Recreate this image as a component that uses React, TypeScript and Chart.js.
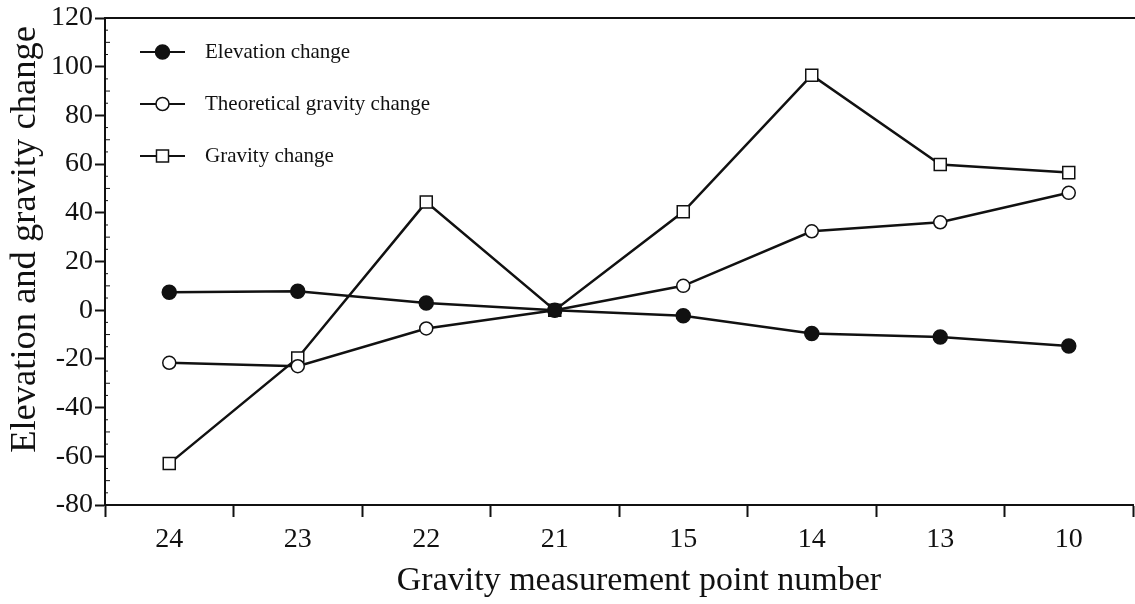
import React, { useEffect, useRef } from "react";
import { Chart, registerables } from "chart.js";

Chart.register(...registerables);

const categories = ["24", "23", "22", "21", "15", "14", "13", "10"];
const elevationChange = [7.4, 7.8, 3.0, 0, -2.3, -9.6, -11.0, -14.7];
const theoreticalGravityChange = [-21.6, -23.0, -7.5, 0, 10.0, 32.4, 36.1, 48.2];
const gravityChange = [-63.0, -19.6, 44.4, 0, 40.4, 96.5, 59.8, 56.5];
const seriesNames = ["Elevation change", "Theoretical gravity change", "Gravity change"];
const yTitle = "Elevation and gravity change";
const xTitle = "Gravity measurement point number";

const FONT = "'Liberation Serif', 'Times New Roman', serif";
const INK = "#111";

const decorPlugin = {
  id: "decor",
  afterDraw(chart: any) {
    const ctx = chart.ctx;
    const { chartArea } = chart;
    const yS = chart.scales.y;
    ctx.save();
    // top frame line
    ctx.strokeStyle = INK;
    ctx.lineWidth = 2;
    ctx.beginPath();
    ctx.moveTo(chartArea.left, chartArea.top);
    ctx.lineTo(chart.width, chartArea.top);
    ctx.stroke();
    // minor inward ticks on the y axis
    ctx.lineWidth = 1;
    for (let v = -75; v <= 120; v += 5) {
      if (v % 20 === 0) continue;
      const py = yS.getPixelForValue(v);
      const len = v % 10 === 0 ? 5 : 3;
      ctx.beginPath();
      ctx.moveTo(chartArea.left, py);
      ctx.lineTo(chartArea.left + len, py);
      ctx.stroke();
    }
    // axis titles
    ctx.fillStyle = INK;
    ctx.textAlign = "center";
    ctx.textBaseline = "alphabetic";
    ctx.font = `34px ${FONT}`;
    ctx.fillText(xTitle, (chartArea.left + chartArea.right) / 2 + 20, chart.height - 14);
    ctx.save();
    ctx.translate(35, (chartArea.top + chartArea.bottom) / 2 - 22);
    ctx.rotate(-Math.PI / 2);
    ctx.font = `36.5px ${FONT}`;
    ctx.fillText(yTitle, 0, 0);
    ctx.restore();
    // legend inside the plot, top-left
    const rows = [34, 86, 138];
    chart.data.datasets.forEach((ds: any, i: number) => {
      const cy = chartArea.top + rows[i];
      const x0 = chartArea.left + 35;
      const x1 = chartArea.left + 80;
      const cx = (x0 + x1) / 2;
      ctx.strokeStyle = INK;
      ctx.lineWidth = 2;
      ctx.beginPath();
      ctx.moveTo(x0, cy);
      ctx.lineTo(x1, cy);
      ctx.stroke();
      ctx.fillStyle = ds.pointBackgroundColor;
      ctx.lineWidth = ds.pointBorderWidth;
      const r = ds.pointRadius;
      ctx.beginPath();
      if (ds.pointStyle === "rect") {
        const h = r * Math.SQRT1_2;
        ctx.rect(cx - h, cy - h, 2 * h, 2 * h);
      } else {
        ctx.arc(cx, cy, r, 0, Math.PI * 2);
      }
      ctx.fill();
      ctx.stroke();
      ctx.fillStyle = INK;
      ctx.font = `21px ${FONT}`;
      ctx.textBaseline = "middle";
      ctx.textAlign = "left";
      ctx.fillText(seriesNames[i], chartArea.left + 100, cy);
    });
    ctx.restore();
  },
};

export default function App() {
  const ref = useRef<HTMLCanvasElement | null>(null);
  useEffect(() => {
    if (!ref.current) return;
    const mk = (label: string, data: number[], style: string, fill: string, radius: number) => ({
      label,
      data,
      borderColor: INK,
      borderWidth: 2.5,
      pointStyle: style,
      pointRadius: radius,
      pointBackgroundColor: fill,
      pointBorderColor: INK,
      pointBorderWidth: 1.5,
      tension: 0,
      fill: false,
      clip: false,
    });
    const chart = new Chart(ref.current, {
      type: "line",
      data: {
        labels: categories,
        datasets: [
          mk(seriesNames[0], elevationChange, "circle", INK, 7),
          mk(seriesNames[1], theoreticalGravityChange, "circle", "#fff", 6.5),
          mk(seriesNames[2], gravityChange, "rect", "#fff", 8.5),
        ],
      },
      options: {
        animation: false,
        responsive: false,
        maintainAspectRatio: false,
        layout: { autoPadding: false, padding: { top: 18, right: 2, left: 0, bottom: 0 } },
        plugins: {
          legend: { display: false },
          tooltip: { enabled: false },
        },
        scales: {
          x: {
            type: "category",
            offset: true,
            afterFit: (s: any) => {
              s.height = 99;
              s.paddingLeft = 0;
              s.paddingRight = 0;
            },
            grid: {
              offset: true,
              drawOnChartArea: false,
              drawTicks: true,
              tickLength: 12,
              tickWidth: 2,
              tickColor: INK,
            },
            border: { display: true, color: INK, width: 2 },
            ticks: {
              color: INK,
              font: { family: FONT, size: 28 },
              padding: 6,
              maxRotation: 0,
            },
            title: { display: false },
          },
          y: {
            min: -80,
            max: 120,
            afterFit: (s: any) => {
              s.width = 105;
              s.paddingTop = 0;
              s.paddingBottom = 0;
            },
            grid: {
              drawOnChartArea: false,
              drawTicks: true,
              tickLength: 10,
              tickWidth: 2,
              tickColor: INK,
            },
            border: { display: true, color: INK, width: 2 },
            ticks: {
              stepSize: 20,
              color: INK,
              font: { family: FONT, size: 28 },
              padding: 2,
            },
            title: { display: false },
          },
        },
      },
      plugins: [decorPlugin],
    } as any);
    return () => chart.destroy();
  }, []);
  return (
    <div style={{ position: "fixed", left: 0, top: 0, width: 1135, height: 604, background: "#fff" }}>
      <canvas ref={ref} width={1135} height={604} style={{ display: "block" }} />
    </div>
  );
}
